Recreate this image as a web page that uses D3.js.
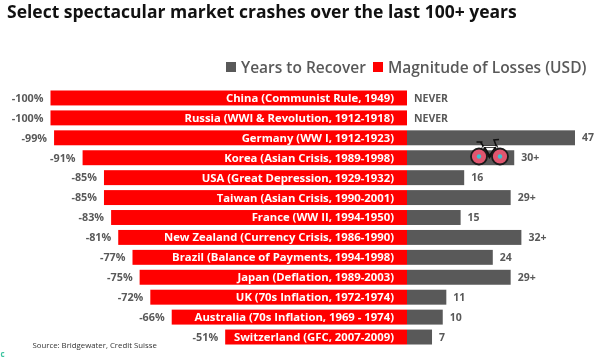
<!DOCTYPE html>
<html>
<head>
<meta charset="utf-8">
<script src="https://cdn.jsdelivr.net/npm/d3@7"></script>
<style>
  html, body { margin: 0; padding: 0; background: #fff; }
  svg { display: block; filter: blur(0.35px); }
  text { font-family: "Open Sans", sans-serif; }
</style>
</head>
<body>
<div id="chart"></div>
<script>
const categories = [
  "China (Communist Rule, 1949)",
  "Russia (WWI & Revolution, 1912-1918)",
  "Germany (WW I, 1912-1923)",
  "Korea (Asian Crisis, 1989-1998)",
  "USA (Great Depression, 1929-1932)",
  "Taiwan (Asian Crisis, 1990-2001)",
  "France (WW II, 1994-1950)",
  "New Zealand (Currency Crisis, 1986-1990)",
  "Brazil (Balance of Payments, 1994-1998)",
  "Japan (Deflation, 1989-2003)",
  "UK (70s Inflation, 1972-1974)",
  "Australia (70s Inflation, 1969 - 1974)",
  "Switzerland (GFC, 2007-2009)",
];
const losses = [-100, -100, -99, -91, -85, -85, -83, -81, -77, -75, -72, -66, -51];
const years = [0, 0, 47, 30, 16, 29, 15, 32, 24, 29, 11, 10, 7];
const yearLabels = ["NEVER", "NEVER", "47", "30+", "16", "29+", "15", "32+", "24", "29+", "11", "10", "7"];

const width = 600;
const height = 358;
const zero_x = 407;
const red = "#ff0000";
const grey = "#595959";

const svg = d3
  .select("#chart")
  .append("svg")
  .attr("width", width)
  .attr("height", height);

const xLoss = d3.scaleLinear().domain([-100, 0]).range([50.5, zero_x]);
const xYears = d3.scaleLinear().domain([0, 47]).range([zero_x, 575]);
const y = d3
  .scaleBand()
  .domain(categories)
  .range([88, 347])
  .paddingInner(0.25)
  .paddingOuter(0.125);

// title
svg
  .append("text")
  .attr("x", 7)
  .attr("y", 18)
  .attr("fill", "#111")
  .style("font-size", "17.5px")
  .style("font-weight", "700")
  .text("Select spectacular market crashes over the last 100+ years");

// legend
const legendItems = [
  { label: "Years to Recover", color: grey, x: 226 },
  { label: "Magnitude of Losses (USD)", color: red, x: 373 },
];
legendItems.forEach((d) => {
  svg
    .append("rect")
    .attr("x", d.x)
    .attr("y", 62)
    .attr("width", 10)
    .attr("height", 10)
    .attr("fill", d.color);
  svg
    .append("text")
    .attr("x", d.x + 15)
    .attr("y", 73)
    .attr("fill", grey)
    .style("font-size", "15.5px")
    .style("font-weight", "600")
    .text(d.label);
});

// loss bars
svg
  .append("g")
  .selectAll("rect")
  .data(categories)
  .join("rect")
  .attr("x", (d, i) => xLoss(losses[i]))
  .attr("y", (d) => y(d))
  .attr("width", (d, i) => zero_x - xLoss(losses[i]))
  .attr("height", y.bandwidth())
  .attr("fill", red);

// recovery bars
svg
  .append("g")
  .selectAll("rect")
  .data(categories)
  .join("rect")
  .attr("x", zero_x)
  .attr("y", (d) => y(d))
  .attr("width", (d, i) => xYears(years[i]) - zero_x)
  .attr("height", y.bandwidth())
  .attr("fill", grey);

// category names inside the red bars
svg
  .append("g")
  .selectAll("text")
  .data(categories)
  .join("text")
  .attr("x", 394)
  .attr("y", (d) => y(d) + y.bandwidth() / 2)
  .attr("dy", "0.35em")
  .attr("text-anchor", "end")
  .attr("fill", "#fff")
  .style("font-size", "11.3px")
  .style("font-weight", "700")
  .text((d) => d);

// loss labels
svg
  .append("g")
  .selectAll("text")
  .data(categories)
  .join("text")
  .attr("x", (d, i) => xLoss(losses[i]) - 7)
  .attr("y", (d) => y(d) + y.bandwidth() / 2)
  .attr("dy", "0.35em")
  .attr("text-anchor", "end")
  .attr("fill", grey)
  .style("font-size", "10.8px")
  .style("font-weight", "700")
  .text((d, i) => losses[i] + "%");

// years labels
svg
  .append("g")
  .selectAll("text")
  .data(categories)
  .join("text")
  .attr("x", (d, i) => xYears(years[i]) + 7)
  .attr("y", (d) => y(d) + y.bandwidth() / 2)
  .attr("dy", "0.35em")
  .attr("fill", grey)
  .style("font-size", "10.5px")
  .style("font-weight", "700")
  .text((d, i) => yearLabels[i]);

// source note
svg
  .append("text")
  .attr("x", 32.5)
  .attr("y", 348)
  .attr("fill", "#333")
  .style("font-size", "7.8px")
  .text("Source: Bridgewater, Credit Suisse");

// stray letter cut off at the bottom left of the screenshot
svg
  .append("text")
  .attr("x", 0.5)
  .attr("y", 357)
  .attr("fill", "#3cc4a0")
  .style("font-size", "8px")
  .style("font-weight", "700")
  .text("c");

// bicycle sticker over the Korea bar
const bike = svg.append("g").attr("transform", "translate(489.5, 156.5)");
bike
  .append("path")
  .attr("d", "M-10.5 0 L-6 -10 L7 -10 L10.5 0 M-6 -10 L0 0 L7 -10")
  .attr("fill", "none")
  .attr("stroke", "#111")
  .attr("stroke-width", 2.6);
bike
  .append("path")
  .attr("d", "M-10.5 0 L-6 -10 L7 -10 L10.5 0")
  .attr("fill", "none")
  .attr("stroke", "#fff")
  .attr("stroke-width", 1.2);
bike
  .append("path")
  .attr("d", "M7 -10 L4.5 -16.5 L9.5 -17 M-13 -14.5 L-7 -14.5 M-9 -14.5 L-6 -10")
  .attr("fill", "none")
  .attr("stroke", "#111")
  .attr("stroke-width", 1.6);
[-10.5, 10.5].forEach((cx) => {
  bike
    .append("circle")
    .attr("cx", cx)
    .attr("cy", 0)
    .attr("r", 8)
    .attr("fill", "#e0566f")
    .attr("stroke", "#1a1a1a")
    .attr("stroke-width", 1.8);
  bike
    .append("circle")
    .attr("cx", cx)
    .attr("cy", 0)
    .attr("r", 2.2)
    .attr("fill", "#35c4d4");
});
</script>
</body>
</html>
